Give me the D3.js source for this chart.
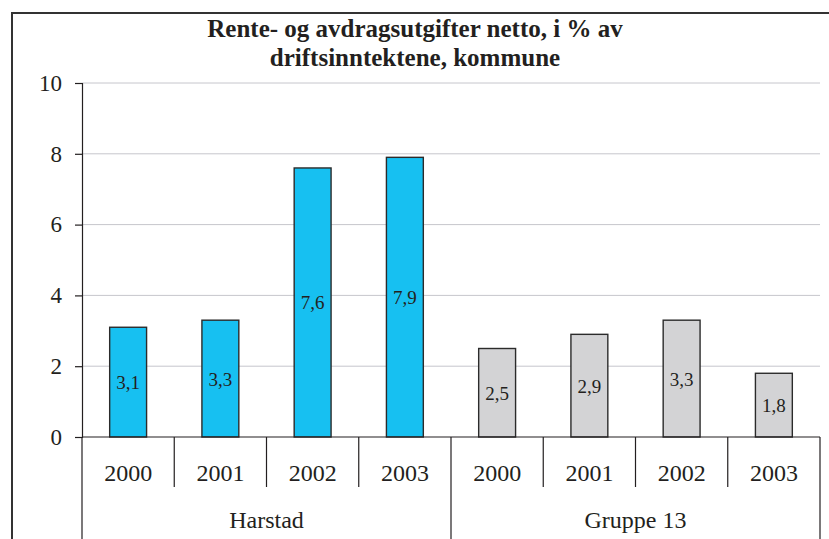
<!DOCTYPE html>
<html>
<head>
<meta charset="utf-8">
<script src="https://cdn.jsdelivr.net/npm/d3@7"></script>
<style>
  body { margin: 0; background: #fff; }
  svg { display: block; }
  text { font-family: "Liberation Serif", "Times New Roman", serif; fill: #231f20; }
</style>
</head>
<body>
<div id="chart"></div>
<script>
var groups = ['Harstad', 'Gruppe 13'];
var years = ['2000', '2001', '2002', '2003'];
var harstad = [3.1, 3.3, 7.6, 7.9];
var gruppe13 = [2.5, 2.9, 3.3, 1.8];
var yTicks = [0, 2, 4, 6, 8, 10];
var titleLines = ['Rente- og avdragsutgifter netto, i % av', 'driftsinntektene, kommune'];

var colors = ['#17c0f1', '#d3d3d5'];

var width = 829, height = 539;
var plotLeft = 82, plotRight = 820, plotTop = 83, plotBottom = 437;

var rows = [];
[harstad, gruppe13].forEach(function(vals, g){
  vals.forEach(function(v, i){
    rows.push({group: groups[g], year: years[i], value: v, g: g, key: g + '-' + years[i]});
  });
});

var svg = d3.select('#chart').append('svg')
  .attr('width', width)
  .attr('height', height);

// frame
svg.append('path')
  .attr('d', 'M12,' + height + 'V13H' + width)
  .attr('fill', 'none')
  .attr('stroke', '#333')
  .attr('stroke-width', 2);

// title
svg.append('text')
  .attr('x', 415)
  .attr('y', 37)
  .attr('text-anchor', 'middle')
  .style('font-weight', 'bold')
  .style('font-size', '25px')
  .selectAll('tspan').data(titleLines)
  .enter().append('tspan')
  .attr('x', 415)
  .attr('dy', function(d, i){ return i === 0 ? 0 : 29; })
  .text(function(d){ return d; });

var y = d3.scaleLinear().domain([0, 10]).range([plotBottom, plotTop]);
var x = d3.scaleBand()
  .domain(rows.map(function(d){ return d.key; }))
  .range([plotLeft, plotRight])
  .paddingInner(0.6)
  .paddingOuter(0.3);
var step = x.step();

// gridlines
svg.append('g').selectAll('line').data(yTicks.filter(function(t){ return t > 0; }))
  .enter().append('line')
  .attr('x1', plotLeft).attr('x2', plotRight)
  .attr('y1', function(d){ return y(d); })
  .attr('y2', function(d){ return y(d); })
  .attr('stroke', '#c6c6cc')
  .attr('stroke-width', 1);

// y axis
var yAxis = svg.append('g')
  .attr('transform', 'translate(' + plotLeft + ',0)')
  .call(d3.axisLeft(y).tickValues(yTicks).tickSize(7).tickPadding(13).tickFormat(d3.format('d')));
yAxis.select('.domain').attr('stroke', '#231f20').attr('stroke-width', 1.2);
yAxis.selectAll('.tick line').attr('stroke', '#231f20').attr('stroke-width', 1.2);
yAxis.selectAll('.tick text')
  .style('font-family', '"Liberation Serif", serif')
  .style('font-size', '23px')
  .attr('fill', '#231f20');

// bars
svg.append('g').selectAll('rect').data(rows)
  .enter().append('rect')
  .attr('x', function(d){ return x(d.key); })
  .attr('y', function(d){ return y(d.value); })
  .attr('width', x.bandwidth())
  .attr('height', function(d){ return y(0) - y(d.value); })
  .attr('fill', function(d){ return colors[d.g]; })
  .attr('stroke', '#2b2b2b')
  .attr('stroke-width', 1.4);

// value labels
svg.append('g').selectAll('text').data(rows)
  .enter().append('text')
  .attr('x', function(d){ return x(d.key) + x.bandwidth() / 2; })
  .attr('y', function(d){ return (y(d.value) + y(0)) / 2 + 7; })
  .attr('text-anchor', 'middle')
  .style('font-size', '19px')
  .text(function(d){ return d3.format('.1f')(d.value).replace('.', ','); });

// category axis
var cat = svg.append('g');
cat.append('line')
  .attr('x1', plotLeft).attr('x2', plotRight)
  .attr('y1', plotBottom).attr('y2', plotBottom)
  .attr('stroke', '#231f20').attr('stroke-width', 1.2);

// year dividers
cat.selectAll('line.yr').data(rows.filter(function(d, i){ return i % years.length !== 0; }))
  .enter().append('line')
  .attr('class', 'yr')
  .attr('x1', function(d){ return x(d.key) - (step - x.bandwidth()) / 2; })
  .attr('x2', function(d){ return x(d.key) - (step - x.bandwidth()) / 2; })
  .attr('y1', plotBottom).attr('y2', 487)
  .attr('stroke', '#231f20').attr('stroke-width', 1.2);

// group dividers
var groupEdges = [plotLeft, plotLeft + years.length * step, plotRight];
cat.selectAll('line.gr').data(groupEdges)
  .enter().append('line')
  .attr('class', 'gr')
  .attr('x1', function(d){ return d; }).attr('x2', function(d){ return d; })
  .attr('y1', plotBottom).attr('y2', height)
  .attr('stroke', '#231f20').attr('stroke-width', 1.2);

cat.selectAll('text.yr').data(rows)
  .enter().append('text')
  .attr('class', 'yr')
  .attr('x', function(d){ return x(d.key) + x.bandwidth() / 2; })
  .attr('y', 481)
  .attr('text-anchor', 'middle')
  .style('font-size', '24px')
  .text(function(d){ return d.year; });

cat.selectAll('text.gr').data(groups)
  .enter().append('text')
  .attr('class', 'gr')
  .attr('x', function(d, i){ return (groupEdges[i] + groupEdges[i + 1]) / 2; })
  .attr('y', 528)
  .attr('text-anchor', 'middle')
  .style('font-size', '24px')
  .text(function(d){ return d; });
</script>
</body>
</html>
